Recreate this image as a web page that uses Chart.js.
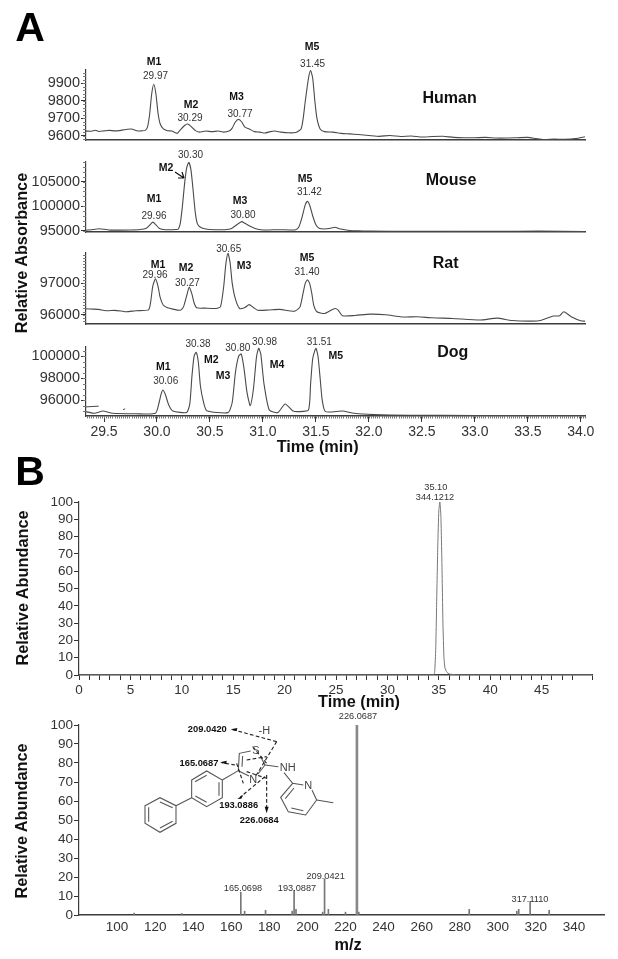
<!DOCTYPE html>
<html lang="en">
<head>
<meta charset="UTF-8">
<title>Relative absorbance and abundance</title>
<script src="https://cdn.jsdelivr.net/npm/chart.js"></script>
<style>
    html, body { margin: 0; padding: 0; background: #fff; }
    #page { position: relative; width: 618px; height: 959px; overflow: hidden; font-family: "Liberation Sans", Arial, sans-serif; color: #222; }
    #page canvas { position: absolute; }
    #overlay { position: absolute; left: 0; top: 0; }
    .lbl { position: absolute; transform: translate(-50%, -50%); white-space: nowrap; line-height: 1; }
    .peak { font-size: 10px; color: #333; }
    .tag { font-size: 10.5px; font-weight: bold; color: #111; }
    .species { font-size: 16px; font-weight: bold; color: #111; }
    .title { font-size: 16.3px; font-weight: bold; color: #111; }
    .small { font-size: 9.2px; color: #333; }
    .panel { font-size: 41px; font-weight: bold; color: #000; }
    .rot { transform: translate(-50%, -50%) rotate(-90deg); }
</style>
</head>
<body>
<div id="page">
    <canvas id="human"></canvas>
    <canvas id="mouse"></canvas>
    <canvas id="rat"></canvas>
    <canvas id="dog"></canvas>
    <canvas id="tic"></canvas>
    <canvas id="spectrum"></canvas>
    <svg id="overlay" width="618" height="959" viewBox="0 0 618 959">
        <!-- arrow M2 -> mouse peak -->
        <path d="M175 172L184 178M184 178L178 178M184 178L182 172" stroke="#111" stroke-width="1.2" fill="none"/>
        <!-- structure, drawn in zoom units -->
        <g transform="translate(100 700) scale(.3333)" fill="none" stroke="#555" stroke-width="3.2">
            <path d="M135 317L180 293L228 317L228 370L180 397L135 370Z"/>
            <path d="M146 322L146 365M180 306L218 323M218 364L180 384"/>
            <path d="M275 240L320 213L367 240L367 293L320 320L275 293Z"/>
            <path d="M285 245L320 226M357 247L357 287M320 307L286 288"/>
            <path d="M228 317L275 293M367 240L415 212"/>
            <path d="M415 212L418 160L452 153M482 170L495 195L474 222M447 228L415 212"/>
            <path d="M428 168L426 200"/>
            <path d="M495 195L535 200M552 218L578 250L610 255M636 270L650 300L617 345L565 335L542 292L578 250"/>
            <path d="M556 296L582 264M574 324L610 332M650 300L700 308"/>
            <g stroke="#222" stroke-width="3.4" stroke-dasharray="11 7">
                <path d="M530 125L395 88"/>
                <path d="M530 125L465 232"/>
                <path d="M405 195L365 188"/>
                <path d="M458 140L500 190"/>
                <path d="M495 230L420 292"/>
                <path d="M500 225L500 333"/>
                <path d="M440 180L500 170M410 190L430 250M440 215L500 235"/>
            </g>
            <g fill="#111" stroke="none">
                <path d="M392 88L412 84L410 94z"/>
                <path d="M360 187L380 182L379 193z"/>
                <path d="M412 297L430 284L424 296z"/>
                <path d="M500 340L494 320L506 320z"/>
            </g>
            <g fill="#444" stroke="none" font-size="33" font-family="Liberation Sans, Arial, sans-serif" text-anchor="middle">
                <text x="468" y="163">S</text>
                <text x="460" y="248">N</text>
                <text x="563" y="213">NH</text>
                <text x="625" y="268">N</text>
                <text x="493" y="101">-H</text>
            </g>
            <g fill="#111" stroke="none" font-size="28" font-weight="bold" font-family="Liberation Sans, Arial, sans-serif" text-anchor="middle">
                <text x="322" y="95">209.0420</text>
                <text x="297" y="197">165.0687</text>
                <text x="416" y="325">193.0886</text>
                <text x="478" y="370">226.0684</text>
            </g>
        </g>
    </svg>
</div>

<script>
    // ---- panel A, retention time (min) and absorbance
    const humanTime = [29.33,29.38,29.42,29.45,29.50,29.55,29.60,29.66,29.72,29.76,29.81,29.85,29.89,29.91,29.93,29.95,29.97,29.99,30.01,30.03,30.06,30.10,30.14,30.19,30.22,30.26,30.29,30.32,30.36,30.40,30.46,30.52,30.58,30.63,30.68,30.71,30.74,30.77,30.80,30.83,30.87,30.92,30.97,31.02,31.07,31.11,31.17,31.24,31.31,31.36,31.38,31.40,31.43,31.45,31.47,31.49,31.51,31.54,31.58,31.66,31.74,31.82,31.90,32.00,32.10,32.20,32.30,32.40,32.50,32.60,32.70,32.80,32.90,33.00,33.10,33.20,33.30,33.40,33.50,33.58,33.65,33.75,33.85,33.95,34.04];
    const humanAbs = [9628,9627,9633,9626,9629,9632,9629,9632,9638,9640,9630,9629,9632,9650,9720,9840,9896,9840,9730,9670,9640,9630,9628,9615,9635,9660,9668,9655,9632,9622,9628,9625,9628,9622,9628,9645,9680,9695,9680,9650,9640,9625,9622,9617,9625,9628,9622,9618,9620,9640,9700,9800,9930,9974,9930,9800,9700,9640,9625,9622,9615,9612,9608,9603,9598,9603,9597,9600,9594,9597,9598,9592,9590,9590,9592,9588,9588,9590,9592,9585,9580,9582,9581,9585,9596];

    const mouseTime = [29.33,29.40,29.45,29.50,29.56,29.65,29.75,29.84,29.90,29.93,29.96,29.99,30.02,30.06,30.12,30.18,30.20,30.22,30.24,30.26,30.28,30.30,30.32,30.34,30.36,30.38,30.41,30.46,30.55,30.64,30.70,30.74,30.78,30.80,30.83,30.87,30.92,30.98,31.05,31.15,31.25,31.31,31.34,31.37,31.40,31.42,31.44,31.47,31.50,31.53,31.58,31.64,31.68,31.72,31.80,31.90,32.00,32.40,32.80,33.20,33.60,34.04];
    const mouseAbs = [95100,95250,95400,95300,95120,95120,95150,95250,95500,96100,96750,96200,95500,95250,95200,95250,95300,96500,100000,104500,107800,108950,107500,103500,99000,96500,95700,95350,95200,95200,95400,96000,96600,96840,96500,96000,95500,95200,95150,95200,95150,95200,95800,97800,100300,100980,100300,98000,96200,95500,95350,95500,95700,95400,95100,94950,94900,94880,94860,94880,94900,94800];

    const ratTime = [29.33,29.40,29.45,29.52,29.60,29.66,29.71,29.80,29.92,29.94,29.96,29.985,30.01,30.03,30.06,30.10,30.15,30.22,30.25,30.28,30.305,30.33,30.35,30.375,30.45,30.56,30.60,30.63,30.65,30.67,30.69,30.71,30.74,30.78,30.83,30.87,30.91,30.95,31.05,31.16,31.30,31.35,31.38,31.40,31.42,31.44,31.46,31.48,31.51,31.58,31.63,31.68,31.71,31.75,31.87,32.01,32.16,32.31,32.46,32.60,32.79,33.05,33.21,33.35,33.54,33.63,33.74,33.80,33.84,33.91,34.00,34.04];
    const ratAbs = [96190,96180,96170,96130,96140,96120,96095,96130,96155,96400,96900,97135,96900,96550,96300,96220,96180,96145,96250,96600,96875,96650,96380,96220,96210,96200,96260,96900,97600,97940,97650,97000,96500,96200,96230,96320,96230,96145,96150,96170,96115,96250,96700,97000,97105,97000,96700,96300,96095,96040,96120,96200,96150,95970,95980,96020,96000,95930,95940,95905,95885,95835,95895,95820,95800,95830,95960,95970,96095,95940,95810,95800];

    const dogTime = [29.33,29.41,29.49,29.58,29.80,29.985,30.02,30.04,30.056,30.08,30.11,30.15,30.28,30.31,30.33,30.35,30.37,30.39,30.41,30.44,30.47,30.67,30.71,30.74,30.77,30.795,30.82,30.85,30.88,30.91,30.94,30.96,30.98,31.01,31.06,31.14,31.21,31.28,31.34,31.43,31.45,31.47,31.50,31.52,31.54,31.56,31.59,31.75,31.86,32.05,32.38,33.00,34.04];
    const dogAbs = [94970,94820,95030,94820,94780,94820,95800,96600,96940,96500,95600,95030,94900,95700,98200,100000,100360,99500,97300,95800,95060,94880,95800,98500,100000,100210,99000,96700,95515,97000,100000,100730,100200,97500,95120,94880,95670,95050,94970,95120,97500,99800,100730,100000,98000,96000,94970,95030,94820,94700,94640,94620,94600];

    // little broken bits at the start of the dog trace
    const dogStrayTime = [29.33,29.45,null,29.68,29.70];
    const dogStrayAbs = [95400,95470,null,95150,95230];

    // ---- panel B, total ion trace
    const ticTime = [0,10,20,30,34.5,34.6,34.7,34.8,34.9,35.0,35.1,35.2,35.3,35.4,35.5,35.6,35.8,36.0,36.5,37,45,50];
    const ticAbundance = [0,0,0,0,0,2,15,45,75,95,100,92,65,30,10,4,1.5,0.6,0.2,0,0,0];

    // ---- panel B, mass spectrum
    const mzPeaks = [109,134,165,167,178,192,193,194,208,209,211,220,227,285,310,311,317,327];
    const mzAbundance = [1,0.8,12,2,2.5,2,13,3,1.5,19,3,1.5,1.5,3,2,3,7,2.5];
    const basePeakMz = [226];
    const basePeakAbundance = [100];

    // ---- tick labels
    const humanTicks = [9600,9700,9800,9900];
    const mouseTicks = [95000,100000,105000];
    const ratTicks = [96000,97000];
    const dogTicks = [96000,98000,100000];
    const timeTicks = [29.5,30,30.5,31,31.5,32,32.5,33,33.5,34];
    const percentTicks = [0,10,20,30,40,50,60,70,80,90,100];
    const mzTicks = [100,120,140,160,180,200,220,240,260,280,300,320,340];

    const lineColor = '#4a4a4a';
    const axisColor = '#3c3c3c';
    const tickColor = '#333';

    // text beside the traces: text, centre x, centre y, css class
    const textLabels = [
        ['A', 30, 27, 'panel'], ['B', 30, 471, 'panel'],
        ['M1', 154, 61, 'tag'], ['29.97', 155.5, 75.7, 'peak'],
        ['M2', 191, 104, 'tag'], ['30.29', 190, 118, 'peak'],
        ['M3', 236.6, 96.3, 'tag'], ['30.77', 240, 114, 'peak'],
        ['M5', 312, 46.3, 'tag'], ['31.45', 312.6, 64, 'peak'],
        ['Human', 449.6, 97.7, 'species'],
        ['30.30', 190.5, 154.7, 'peak'], ['M2', 166, 166.7, 'tag'],
        ['M1', 154, 198, 'tag'], ['29.96', 154, 215.7, 'peak'],
        ['M3', 240, 200, 'tag'], ['30.80', 243, 215, 'peak'],
        ['M5', 305, 178, 'tag'], ['31.42', 309.4, 192, 'peak'],
        ['Mouse', 451, 180, 'species'],
        ['M1', 158, 264, 'tag'], ['29.96', 155, 275, 'peak'],
        ['M2', 186, 266.7, 'tag'], ['30.27', 187.4, 283, 'peak'],
        ['30.65', 228.7, 249.3, 'peak'], ['M3', 244, 265.3, 'tag'],
        ['M5', 307, 256.7, 'tag'], ['31.40', 307, 272.3, 'peak'],
        ['Rat', 445.7, 262.7, 'species'],
        ['M1', 163.4, 365.7, 'tag'], ['30.06', 165.7, 381.3, 'peak'],
        ['30.38', 198, 344.3, 'peak'], ['M2', 211.4, 359, 'tag'],
        ['M3', 223, 375.3, 'tag'], ['30.80', 237.8, 347.7, 'peak'],
        ['30.98', 264.6, 341.7, 'peak'], ['M4', 277, 364.3, 'tag'],
        ['31.51', 319.3, 342, 'peak'], ['M5', 335.8, 355, 'tag'],
        ['Dog', 452.7, 351.7, 'species'],
        ['Time (min)', 317.7, 445.7, 'title'],
        ['35.10', 435.8, 488.3, 'small'], ['344.1212', 435, 498, 'small'],
        ['Time (min)', 359, 701, 'title'],
        ['226.0687', 358, 717, 'small'],
        ['165.0698', 243, 888.7, 'small'], ['193.0887', 297, 888.7, 'small'],
        ['209.0421', 325.6, 877.3, 'small'], ['317.1110', 530, 899.7, 'small'],
        ['m/z', 348, 944, 'title'],
        ['Relative Absorbance', 21, 253, 'title rot'],
        ['Relative Abundance', 21.7, 588, 'title rot'],
        ['Relative Abundance', 21, 821, 'title rot']
    ];

    const page = document.getElementById('page');
    textLabels.forEach(([text, x, y, cls]) => {
        const el = document.createElement('div');
        el.className = 'lbl ' + cls;
        el.style.left = x + 'px';
        el.style.top = y + 'px';
        el.textContent = text;
        page.appendChild(el);
    });

    // small ticks between the labelled ones, placed by the scales
    const minorTicks = {
        id: 'minorTicks',
        afterDraw(chart, args, opts) {
            const ctx = chart.ctx;
            ctx.save();
            ctx.strokeStyle = '#777';
            ctx.lineWidth = 1;
            if (opts.y) {
                const s = chart.scales.y;
                for (let v = Math.ceil(s.min / opts.y) * opts.y; v <= s.max; v += opts.y) {
                    const p = Math.round(s.getPixelForValue(v)) + 0.5;
                    ctx.beginPath();
                    ctx.moveTo(s.right - 3, p);
                    ctx.lineTo(s.right, p);
                    ctx.stroke();
                }
            }
            if (opts.x) {
                const s = chart.scales.x;
                for (let i = Math.ceil(s.min / opts.x); i * opts.x <= s.max; i++) {
                    const p = Math.round(s.getPixelForValue(i * opts.x)) + 0.5;
                    ctx.beginPath();
                    ctx.moveTo(p, s.top);
                    ctx.lineTo(p, s.top + 2.5);
                    ctx.stroke();
                }
            }
            ctx.restore();
        }
    };

    // chart.js keeps half a tick label free above and below the plot,
    // so the canvas always gets at least 12px on those sides
    function place(id, area, bottomSpace) {
        const canvas = document.getElementById(id);
        const leftSpace = 60, topSpace = 12, rightSpace = 16;
        canvas.width = area.right - area.left + leftSpace + rightSpace;
        canvas.height = area.bottom - area.top + topSpace + bottomSpace;
        canvas.style.left = (area.left - leftSpace) + 'px';
        canvas.style.top = (area.top - topSpace) + 'px';
        return { canvas, leftSpace, topSpace, rightSpace, bottomSpace };
    }

    function fixedTicks(values) {
        return s => { s.ticks = values.map(value => ({ value })); };
    }

    function baseOptions(slot, xScale, yScale, minor) {
        return {
            responsive: false,
            animation: false,
            layout: {
                padding: { top: slot.topSpace, right: slot.rightSpace }
            },
            plugins: { legend: { display: false }, tooltip: { enabled: false }, minorTicks: minor },
            scales: {
                x: Object.assign({
                    type: 'linear',
                    offset: false,
                    border: { color: axisColor, width: 1.5 },
                    afterFit: s => { s.height = slot.bottomSpace; }
                }, xScale),
                y: Object.assign({
                    border: { color: axisColor, width: 1.2 },
                    afterFit: s => { s.width = slot.leftSpace; }
                }, yScale)
            }
        };
    }

    function yAxis(min, max, tickValues, size) {
        return {
            min, max,
            afterBuildTicks: fixedTicks(tickValues),
            grid: { drawOnChartArea: false, tickLength: 5, tickColor: tickColor },
            ticks: {
                autoSkip: false,
                font: { size, family: 'Liberation Sans' }, color: '#333', padding: 1,
                callback: v => String(v)
            }
        };
    }

    function xy(time, values) {
        return time.map((t, i) => ({ x: t, y: values[i] }));
    }

    function traceChart(id, area, time, values, yScale, minorY, xScale, bottomSpace, extra) {
        const slot = place(id, area, bottomSpace);
        const datasets = [{ data: xy(time, values), borderColor: lineColor, borderWidth: 1.1, pointRadius: 0, showLine: true, tension: 0.2 }];
        if (extra) {
            datasets.push({ data: xy(extra[0], extra[1]), borderColor: lineColor, borderWidth: 1, pointRadius: 0, showLine: true, spanGaps: false });
        }
        return new Chart(slot.canvas, {
            type: 'scatter',
            data: { datasets },
            options: baseOptions(slot, xScale, yScale, { y: minorY, x: xScale.minorX }),
            plugins: [minorTicks]
        });
    }

    const noLabelsX = {
        min: 29.33, max: 34.04,
        grid: { display: false, drawTicks: false },
        ticks: { display: false }
    };
    const dogX = {
        min: 29.33, max: 34.04,
        minorX: 0.02,
        afterBuildTicks: fixedTicks(timeTicks),
        grid: { drawOnChartArea: false, tickLength: 6, tickColor: tickColor },
        ticks: {
            maxRotation: 0, autoSkip: false, padding: 2,
            font: { size: 14, family: 'Liberation Sans' }, color: '#333',
            callback: v => v.toFixed(1)
        }
    };

    const panelArea = (top, bottom) => ({ left: 86, right: 585, top, bottom });
    traceChart('human', panelArea(70, 140), humanTime, humanAbs, yAxis(9577, 9977, humanTicks, 14.5), 20, noLabelsX, 12);
    traceChart('mouse', panelArea(162, 232), mouseTime, mouseAbs, yAxis(94730, 109010, mouseTicks, 14.5), 1000, noLabelsX, 12);
    traceChart('rat', panelArea(253, 324), ratTime, ratAbs, yAxis(95710, 97950, ratTicks, 14.5), 100, noLabelsX, 12);
    traceChart('dog', panelArea(347, 416), dogTime, dogAbs, yAxis(94573, 100845, dogTicks, 14.5), 500, dogX, 26, [dogStrayTime, dogStrayAbs]);

    const ticX = {
        min: 0, max: 49.9,
        grid: { drawOnChartArea: false, tickLength: 5, tickColor: tickColor },
        ticks: {
            stepSize: 1, maxRotation: 0, autoSkip: false, padding: 2,
            font: { size: 13.5, family: 'Liberation Sans' }, color: '#333',
            callback: v => (v % 5 === 0 ? String(v) : '')
        }
    };
    const ticSlot = place('tic', { left: 79, right: 592, top: 502, bottom: 675 }, 24);
    new Chart(ticSlot.canvas, {
        type: 'scatter',
        data: { datasets: [{ data: xy(ticTime, ticAbundance), borderColor: '#777', borderWidth: 1, pointRadius: 0, showLine: true, tension: 0.15 }] },
        options: baseOptions(ticSlot, ticX, yAxis(0, 100, percentTicks, 13.5), {}),
        plugins: [minorTicks]
    });

    const specSlot = place('spectrum', { left: 79, right: 604, top: 725, bottom: 915 }, 24);
    new Chart(specSlot.canvas, {
        type: 'bar',
        data: {
            datasets: [
                { data: xy(mzPeaks, mzAbundance), backgroundColor: '#777', barThickness: 1, grouped: false },
                { data: xy(basePeakMz, basePeakAbundance), backgroundColor: '#888', barThickness: 2, grouped: false }
            ]
        },
        options: baseOptions(specSlot, {
            min: 80, max: 355.8,
            afterBuildTicks: fixedTicks(mzTicks),
            grid: { display: false, drawTicks: false },
            ticks: {
                maxRotation: 0, autoSkip: false, padding: 4,
                font: { size: 13.5, family: 'Liberation Sans' }, color: '#333'
            }
        }, yAxis(0, 100, percentTicks, 13.5), {}),
        plugins: [minorTicks]
    });
</script>
</body>
</html>
